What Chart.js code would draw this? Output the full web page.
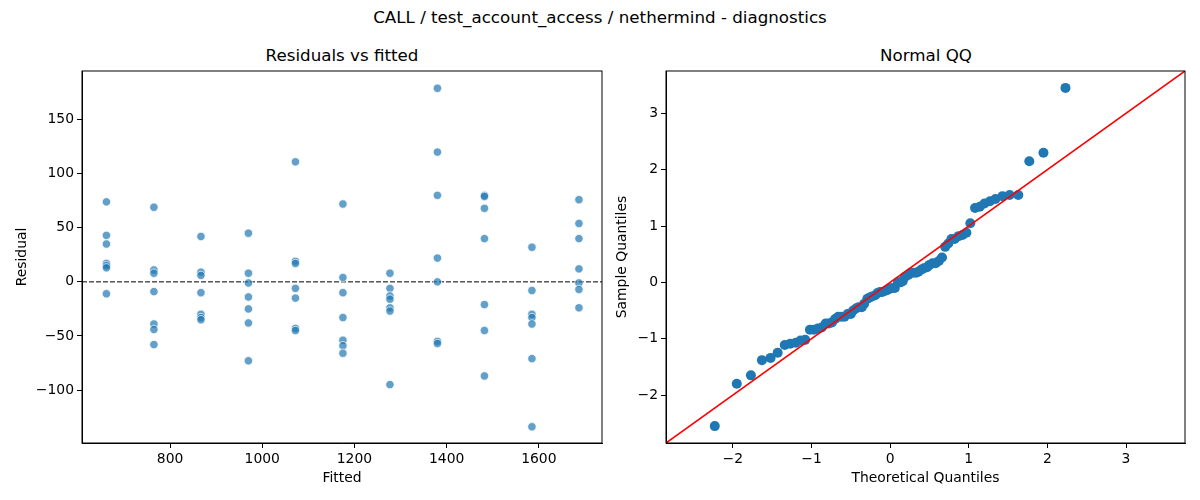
<!DOCTYPE html>
<html>
<head>
<meta charset="utf-8">
<script src="https://cdn.jsdelivr.net/npm/chart.js@4"></script>
<style>
  body { margin: 0; background: #fff; font-family: "DejaVu Sans", sans-serif; }
  #wrap { position: relative; width: 1200px; height: 500px; }
  #suptitle { position: absolute; left: 0; top: 7px; width: 1200px; text-align: center; font-size: 16.7px; color: #000; }
  .subtitle { position: absolute; top: 45px; width: 520px; text-align: center; font-size: 16.7px; color: #000; }
  .box { position: absolute; top: 44px; height: 456px; }
</style>
</head>
<body>
<div id="wrap">
  <div id="suptitle">CALL / test_account_access / nethermind - diagnostics</div>
  <div class="subtitle" style="left:82px;">Residuals vs fitted</div>
  <div class="subtitle" style="left:666px;">Normal QQ</div>
  <div class="box" style="left:0; width:610px;"><canvas id="residChart"></canvas></div>
  <div class="box" style="left:610px; width:590px;"><canvas id="qqChart"></canvas></div>
</div>
<script>
// fitted value of each group (x positions of the columns)
const fittedLevels = [662, 765, 867, 970, 1072, 1175, 1277, 1380, 1482, 1585, 1687];
// residuals per fitted level, 7 runs each
const residGroups = [
  [74, 43, 35, 17, 15, 13, -11],
  [69, 11, 8, -9, -39, -44, -58],
  [42, 9, 6, -10, -30, -33, -35],
  [45, 8, -1, -14, -25, -38, -73],
  [111, 19, 17, -6, -15, -43, -45],
  [72, 4, -10, -33, -54, -59, -66],
  [8, -6, -13, -16, -24, -27, -95],
  [179, 120, 80, 22, 0, -55, -57],
  [80, 79, 68, 40, -21, -45, -87],
  [32, -8, -30, -33, -39, -71, -134],
  [76, 54, 40, 12, -1, -7, -24]
];
const residTicksX = [800, 1000, 1200, 1400, 1600];
const residTicksY = [-100, -50, 0, 50, 100, 150];

// normal QQ
const theoQ = [
  -2.23, -1.95, -1.77, -1.63, -1.52, -1.43, -1.34, -1.27, -1.20, -1.14,
  -1.08, -1.02, -0.97, -0.92, -0.87, -0.82, -0.78, -0.74, -0.70, -0.66,
  -0.62, -0.58, -0.54, -0.50, -0.47, -0.43, -0.40, -0.36, -0.33, -0.29,
  -0.26, -0.23, -0.19, -0.16, -0.13, -0.10, -0.06, -0.03, 0.00, 0.03,
  0.06, 0.10, 0.13, 0.16, 0.19, 0.23, 0.26, 0.29, 0.33, 0.36,
  0.40, 0.43, 0.47, 0.50, 0.54, 0.58, 0.62, 0.66, 0.70, 0.74,
  0.78, 0.82, 0.87, 0.92, 0.97, 1.02, 1.08, 1.14, 1.20, 1.27,
  1.34, 1.43, 1.52, 1.63, 1.77, 1.95, 2.23
];
const sampleQ = [
  -2.55, -1.80, -1.65, -1.38, -1.34, -1.25, -1.11, -1.09, -1.07, -1.03,
  -1.02, -0.84, -0.84, -0.82, -0.80, -0.73, -0.73, -0.71, -0.65, -0.61,
  -0.61, -0.61, -0.56, -0.56, -0.50, -0.46, -0.44, -0.44, -0.38, -0.29,
  -0.27, -0.25, -0.23, -0.19, -0.17, -0.17, -0.15, -0.13, -0.11, -0.10,
  -0.10, 0.00, 0.00, 0.02, 0.10, 0.13, 0.17, 0.17, 0.17, 0.19,
  0.23, 0.25, 0.27, 0.31, 0.34, 0.34, 0.38, 0.44, 0.63, 0.69,
  0.77, 0.77, 0.82, 0.84, 0.88, 1.05, 1.32, 1.34, 1.40, 1.44,
  1.48, 1.53, 1.55, 1.55, 2.15, 2.30, 3.45
];
const qqTicks = [-2, -1, 0, 1, 2, 3];

const FONT = "DejaVu Sans";
const tickFont = { family: FONT, size: 13.9 };
const minus = v => String(v).replace('-', '\u2212');

// frame on all four sides, like matplotlib spines
const framePlugin = {
  id: 'frame',
  afterDatasetsDraw(chart) {
    const { ctx, chartArea: a } = chart;
    ctx.save();
    ctx.strokeStyle = '#000';
    ctx.lineWidth = 1;
    ctx.strokeRect(a.left, a.top, a.right - a.left, a.bottom - a.top);
    ctx.restore();
  }
};

// dashed zero line for the residual plot
const zeroLine = {
  id: 'zeroLine',
  beforeDatasetsDraw(chart) {
    const { ctx, chartArea: a, scales } = chart;
    const y = scales.y.getPixelForValue(0);
    ctx.save();
    ctx.strokeStyle = '#000';
    ctx.lineWidth = 1;
    ctx.setLineDash([5, 2]);
    ctx.beginPath();
    ctx.moveTo(a.left, y);
    ctx.lineTo(a.right, y);
    ctx.stroke();
    ctx.restore();
  }
};

// 45 degree reference line for the QQ plot
const diagLine = {
  id: 'diagLine',
  afterDatasetsDraw(chart) {
    const { ctx, chartArea: a, scales } = chart;
    const lo = scales.x.min, hi = scales.x.max;
    ctx.save();
    ctx.beginPath();
    ctx.rect(a.left, a.top, a.right - a.left, a.bottom - a.top);
    ctx.clip();
    ctx.strokeStyle = '#ff0000';
    ctx.lineWidth = 1.6;
    ctx.beginPath();
    ctx.moveTo(scales.x.getPixelForValue(lo), scales.y.getPixelForValue(lo));
    ctx.lineTo(scales.x.getPixelForValue(hi), scales.y.getPixelForValue(hi));
    ctx.stroke();
    ctx.restore();
  }
};

function axis(min, max, ticks, title, titlePad, size, isX) {
  return {
    type: 'linear',
    min: min,
    max: max,
    afterBuildTicks: s => { s.ticks = ticks.map(v => ({ value: v })); },
    afterFit: s => { if (isX) s.height = size; else s.width = size; },
    grid: { display: true, drawOnChartArea: false, drawTicks: true, tickLength: 5, color: '#000' },
    border: { display: true, color: '#000' },
    ticks: { color: '#000', font: tickFont, padding: 3, maxRotation: 0, callback: v => minus(v) },
    title: {
      display: true, text: title, color: '#000', font: { family: FONT, size: 13.9 },
      padding: isX ? { top: 0, bottom: titlePad } : { top: titlePad, bottom: 0 }
    }
  };
}

const residPoints = [];
fittedLevels.forEach((f, i) => {
  residGroups[i].forEach(r => residPoints.push({ x: f, y: r }));
});

new Chart(document.getElementById('residChart'), {
  type: 'scatter',
  data: {
    datasets: [{
      data: residPoints,
      backgroundColor: 'rgba(31,119,180,0.7)',
      borderColor: '#ffffff',
      borderWidth: 0.7,
      pointRadius: 4.2,
      pointHoverRadius: 4.2
    }]
  },
  options: {
    responsive: true,
    maintainAspectRatio: false,
    animation: false,
    layout: { padding: { left: 0, right: 8, top: 27, bottom: 0 } },
    scales: {
      x: axis(609, 1737, residTicksX, 'Fitted', 13, 57, true),
      y: axis(-149, 195, residTicksY, 'Residual', 14, 82, false)
    },
    plugins: {
      legend: { display: false },
      tooltip: { enabled: false }
    }
  },
  plugins: [zeroLine, framePlugin]
});

new Chart(document.getElementById('qqChart'), {
  type: 'scatter',
  data: {
    datasets: [{
      data: theoQ.map((t, i) => ({ x: t, y: sampleQ[i] })),
      backgroundColor: '#1f77b4',
      borderWidth: 0,
      pointRadius: 5,
      pointHoverRadius: 5
    }]
  },
  options: {
    responsive: true,
    maintainAspectRatio: false,
    animation: false,
    layout: { padding: { left: 0, right: 15, top: 27, bottom: 0 } },
    scales: {
      x: axis(-2.85, 3.75, qqTicks, 'Theoretical Quantiles', 13, 57, true),
      y: axis(-2.85, 3.75, qqTicks, 'Sample Quantiles', 4, 56, false)
    },
    plugins: {
      legend: { display: false },
      tooltip: { enabled: false }
    }
  },
  plugins: [diagLine, framePlugin]
});
</script>
</body>
</html>
